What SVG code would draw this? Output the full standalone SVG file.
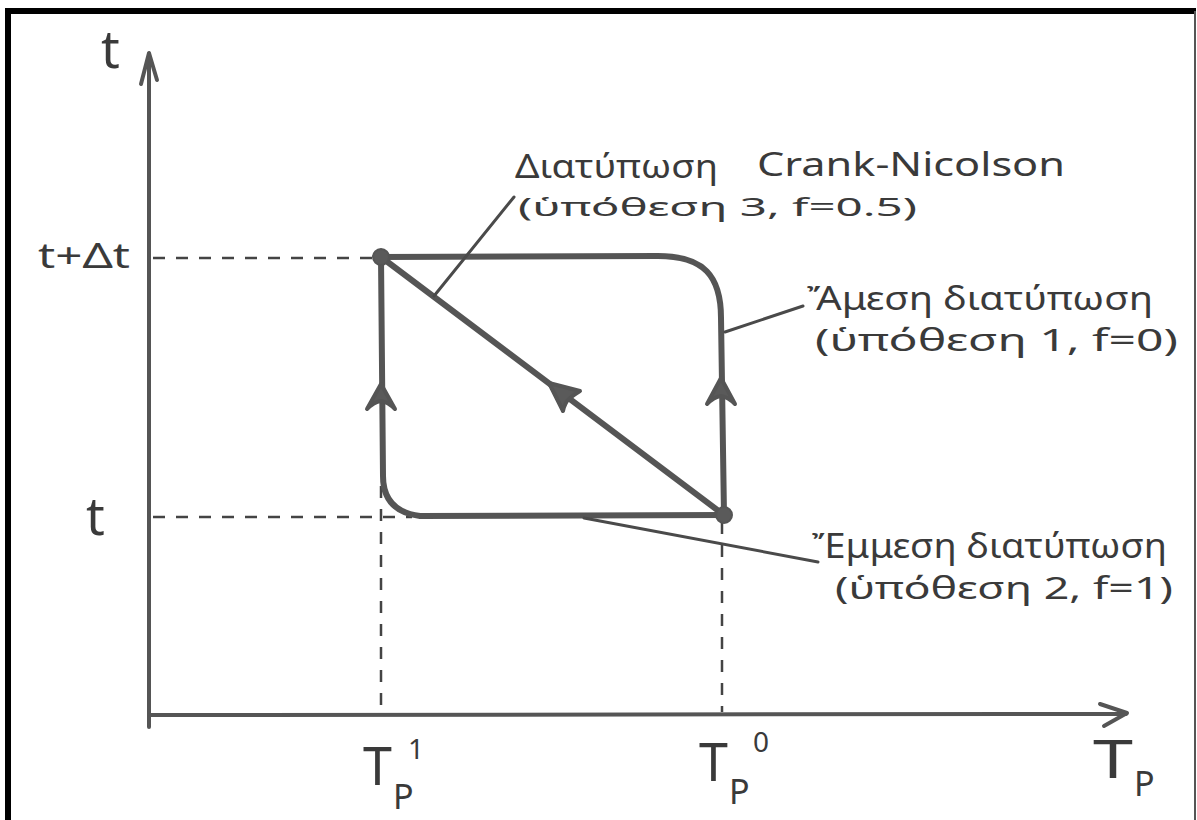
<svg xmlns="http://www.w3.org/2000/svg" width="1197" height="820" viewBox="0 0 1197 820">
<style>
.bg{fill:#ffffff}
.txt{font-family:"Noto Sans","DejaVu Sans",sans-serif;fill:#3a3a3a}
.path{fill:none;stroke:#555555;stroke-width:6;stroke-linecap:round;stroke-linejoin:round}
.axis{fill:none;stroke:#555555;stroke-width:4;stroke-linecap:round;stroke-linejoin:round}
.dash{fill:none;stroke:#444444;stroke-width:2.5;stroke-dasharray:12 11}
.lead{fill:none;stroke:#4a4a4a;stroke-width:3;stroke-linecap:round}
.head{fill:#5a5a5a;stroke:#555555;stroke-width:4;stroke-linejoin:round;stroke-linecap:round}
.dot{fill:#5a5a5a;stroke:#555555;stroke-width:2}
</style>
<rect class="bg" x="0" y="0" width="1197" height="820"/>
<g id="frame">
<path d="M8,820 L8,11 L1196,11" fill="none" stroke="#000000" stroke-width="6"/>
<line x1="1195" y1="11" x2="1195" y2="820" stroke="#555555" stroke-width="2"/>
</g>
<g id="axes">
<line class="axis" x1="149" y1="727" x2="149" y2="54"/>
<polyline class="axis" points="141,84 149,53 157,80"/>
<line class="axis" x1="150" y1="715" x2="1126" y2="714"/>
<polyline class="axis" points="1100,704 1127,713 1104,726"/>
</g>
<g id="guides">
<line class="dash" x1="153" y1="258" x2="372" y2="258"/>
<line class="dash" x1="153" y1="517" x2="412" y2="517"/>
<line class="dash" x1="381" y1="486" x2="381" y2="712"/>
<line class="dash" x1="722" y1="522" x2="722" y2="712"/>
</g>
<g id="connectors">
<path id="explicit-path" class="path" d="M724,515 L721,318 C721,276 704,256 658,256 L381,257"/>
<path id="implicit-path" class="path" d="M724,515 L420,516 C396,513 383,500 383,476 L381,257"/>
<path id="crank-nicolson-path" class="path" d="M381,257 L724,515"/>
<path class="head" d="M381,384 L367,409 Q374,402 381,401 Q388,402 395,409 Z"/>
<path class="head" d="M721,378 L707,404 Q714,397 721,396 Q728,397 735,404 Z"/>
<path class="head" d="M549,383 L563,411 Q565,402 570,398 Q575,394 580,391 Z"/>
<line class="lead" x1="434" y1="296" x2="514" y2="197"/>
<line class="lead" x1="725" y1="332" x2="803" y2="306"/>
<line class="lead" x1="584" y1="518" x2="818" y2="562"/>
</g>
<g id="point-upper"><circle class="dot" cx="381" cy="257" r="8"/></g>
<g id="point-lower"><circle class="dot" cx="724" cy="515" r="8"/></g>
<g id="label-t-axis"><text class="txt" x="101" y="68" font-size="52">t</text></g>
<g id="label-t-dt"><text class="txt" x="38" y="268" font-size="34" textLength="92" lengthAdjust="spacingAndGlyphs">t+Δt</text></g>
<g id="label-t"><text class="txt" x="86" y="535" font-size="52">t</text></g>
<g id="label-tp1">
<text class="txt" x="363" y="785" font-size="52">T</text>
<text class="txt" x="393" y="809" font-size="34">P</text>
<text class="txt" x="408" y="759" font-size="28">1</text>
</g>
<g id="label-tp0">
<text class="txt" x="699" y="781" font-size="52">T</text>
<text class="txt" x="729" y="804" font-size="34">P</text>
<text class="txt" x="753" y="752" font-size="28">0</text>
</g>
<g id="label-tp">
<text class="txt" x="1093" y="778" font-size="52" textLength="40" lengthAdjust="spacingAndGlyphs">T</text>
<text class="txt" x="1134" y="796" font-size="34">P</text>
</g>
<g id="label-crank-nicolson">
<text class="txt" x="515" y="178" font-size="32" textLength="203" lengthAdjust="spacingAndGlyphs">Διατύπωση</text>
<text class="txt" x="757" y="176" font-size="32" textLength="308" lengthAdjust="spacingAndGlyphs">Crank-Nicolson</text>
<text class="txt" x="518" y="216" font-size="26" textLength="399" lengthAdjust="spacingAndGlyphs">(ὑπόθεση 3, f=0.5)</text>
</g>
<g id="label-explicit">
<text class="txt" x="807" y="310" font-size="32" textLength="346" lengthAdjust="spacingAndGlyphs">Ἄμεση διατύπωση</text>
<text class="txt" x="815" y="351" font-size="31" textLength="363" lengthAdjust="spacingAndGlyphs">(ὑπόθεση 1, f=0)</text>
</g>
<g id="label-implicit">
<text class="txt" x="812" y="558" font-size="34" textLength="355" lengthAdjust="spacingAndGlyphs">Ἔμμεση διατύπωση</text>
<text class="txt" x="835" y="599" font-size="30" textLength="338" lengthAdjust="spacingAndGlyphs">(ὑπόθεση 2, f=1)</text>
</g>
</svg>
